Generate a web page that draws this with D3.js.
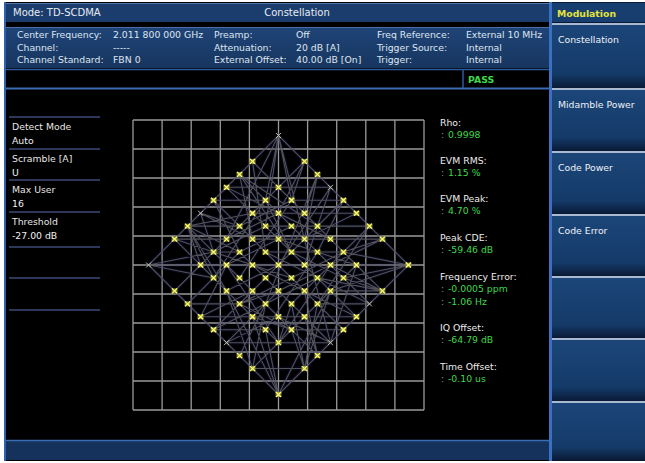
<!DOCTYPE html>
<html>
<head>
<meta charset="utf-8">
<script src="https://cdn.jsdelivr.net/npm/d3@7"></script>
<style>
  body { margin: 0; background: #fff; }
  svg { display: block; font-family: "DejaVu Sans", Verdana, sans-serif; }
</style>
</head>
<body>
<div id="screen"></div>
<script>
// symbol levels [I, Q] (lattice units)
let outerRing = [[-10,0],[-8,-2],[-7,-3],[-6,-4],[-5,-5],[-4,-6],[-3,-7],[-2,-8],[0,-10],[2,-8],[3,-7],[4,-6],[5,-5],[6,-4],[7,-3],[8,-2],
  [10,0],[8,2],[7,3],[6,4],[5,5],[4,6],[3,7],[2,8],[0,10],[-2,8],[-3,7],[-4,6],[-5,5],[-6,4],[-7,3],[-8,2]];
let ring6 = [[-6,0],[-5,-1],[-4,-2],[-3,-3],[-2,-4],[-1,-5],[0,-6],[1,-5],[2,-4],[3,-3],[4,-2],[5,-1],
  [6,0],[5,1],[4,2],[3,3],[2,4],[1,5],[0,6],[-1,5],[-2,4],[-3,3],[-4,2],[-5,1]];
let ring4 = [[-4,0],[-3,-1],[-2,-2],[-1,-3],[0,-4],[1,-3],[2,-2],[3,-1],[4,0],[3,1],[2,2],[1,3],[0,4],[-1,3],[-2,2],[-3,1]];
let ring2 = [[-2,0],[-1,-1],[0,-2],[1,-1],[2,0],[1,1],[0,2],[-1,1],[0,0]];
// rarely hit symbols (drawn faint)
let faintSymbols = [[-10,0],[-6,-4],[4,-6],[-4,6],[4,6],[7,3],[0,-10]];
// chip trajectory, in the order the chips were measured
let chipPath = [[-10,0],[-8,-2],[-4,-2],[0,-10],[2,-8],[-2,-4],[-6,0],[-8,2],[-4,6],[0,4],[6,4],[10,0],[8,-2],[4,-2],[0,-6],
  [-2,-8],[-4,-6],[0,-2],[6,0],[8,2],[4,2],[0,10],[-2,8],[2,4],[4,6],[5,5],[1,1],[-3,-3],[-7,-3],[-5,1],[-7,3],[-3,3],
  [1,5],[3,7],[2,2],[-2,-2],[-6,-4],[-5,-1],[-1,-5],[-3,-7],[1,-3],[5,1],[7,3],[3,3],[-1,-1],[-5,-5],[-3,-1],[1,3],[3,1],
  [7,-3],[3,-3],[-1,1],[-5,5],[-1,5],[3,-1],[5,-5],[1,-5],[-3,1],[-4,0],[-10,0],[-6,4],[-2,2],[2,-2],[6,-4],[4,-6],[0,0],
  [-4,2],[-7,-3],[-2,-4],[2,-4],[3,-7],[4,-6],[2,0],[-2,0],[-6,0],[-2,4],[0,6],[4,0],[8,-2],[10,0],[5,-1],[1,-1],[-3,3],
  [-5,5],[-4,6],[0,2],[2,4],[6,4],[7,3],[3,1],[-1,3],[-3,7],[-2,8],[0,10],[2,8],[1,3],[-3,-1],[-7,-3],[-8,-2],[-4,-2],
  [0,-4],[4,-2],[8,-2],[5,-5],[1,-5],[0,-10],[-1,-3],[-5,-1],[-8,2],[-6,4],[-2,4],[1,5],[6,0],[3,-3],[-3,-7],[-2,-8],
  [0,-6],[2,-4],[6,-4],[7,-3],[3,3],[-2,8],[-4,2],[-8,-2],[-6,-4],[-2,-2],[2,2],[6,4],[8,2],[5,1],[1,-3],[-3,-7],[0,-10],
  [2,-2],[4,6],[0,6],[-4,0],[-7,-3],[-3,1],[1,5],[2,8],[4,2],[10,0],[6,-4],[2,-4],[-2,-8],[-1,-1],[3,-1],[7,3],[5,5],[1,1],
  [-5,-1],[-10,0],[-8,2],[-6,0],[-3,-3],[0,-6],[4,-6],[5,-5],[3,-3],[-1,1],[-5,5],[-3,7],[0,10],[-2,4],[-6,4],[-7,3],[-3,3],
  [0,2],[4,0],[8,-2],[7,-3],[3,-7],[2,-8],[0,-4],[-4,-6],[-5,-5],[-1,-5],[1,-1],[5,-1],[6,0],[2,4],[3,7],[4,6],[0,4],[-4,6],
  [-5,5],[-1,3],[3,1],[8,2],[6,4],[2,0],[-2,-4],[-4,-2],[-8,-2],[-10,0],[-5,1],[-1,5],[0,10],[2,8],[3,3],[7,3],[10,0],[5,1],
  [1,-3],[-3,-1],[-7,3],[-8,2],[-4,-2],[0,-10],[-2,-8],[-3,-7],[-2,-2],[2,-2],[3,-7],[4,-6],[6,-4],[8,-2],[4,-2],[0,-2],
  [-4,0],[-6,4],[-5,5],[-2,2],[1,5],[5,5],[6,4],[2,2],[-2,0],[-6,0],[-7,-3],[-6,-4],[-3,-3],[1,-5],[2,-8],[0,-6],[-4,-6],
  [-1,-3],[3,-3],[5,-5],[7,-3],[3,1],[-1,-1],[-5,-5],[-4,-6],[0,-4],[4,0],[8,2],[7,3],[3,7],[2,8],[-2,8],[-3,7],[-4,6],
  [0,6],[1,3],[-3,-1],[-5,-1],[-8,-2],[-7,-3],[-3,-7],[1,-1],[5,1],[6,0],[10,0],[8,-2],[5,-1],[1,1],[-3,3],[-7,3],[-10,0],
  [-6,0],[-2,4],[2,4],[4,2],[0,-2],[-2,-4],[2,-4],[6,0],[4,6],[0,10],[-4,2],[-8,-2],[-5,1],[-1,-5],[0,-10],[3,-7],[-1,3],[-2,8]];

let headerFields = [
  {x: 17, y: 38, t: "Center Frequency:"}, {x: 113, y: 38, t: "2.011 800 000 GHz"},
  {x: 214, y: 38, t: "Preamp:"}, {x: 296, y: 38, t: "Off"},
  {x: 377, y: 38, t: "Freq Reference:"}, {x: 466, y: 38, t: "External 10 MHz"},
  {x: 17, y: 51, t: "Channel:"}, {x: 113, y: 51, t: "-----"},
  {x: 214, y: 51, t: "Attenuation:"}, {x: 296, y: 51, t: "20 dB  [A]"},
  {x: 377, y: 51, t: "Trigger Source:"}, {x: 466, y: 51, t: "Internal"},
  {x: 17, y: 63, t: "Channel Standard:"}, {x: 113, y: 63, t: "FBN 0"},
  {x: 214, y: 63, t: "External Offset:"}, {x: 296, y: 63, t: "40.00 dB  [On]"},
  {x: 377, y: 63, t: "Trigger:"}, {x: 466, y: 63, t: "Internal"}
];
let sideParams = [["Detect Mode", "Auto"], ["Scramble [A]", "U"], ["Max User", "16"], ["Threshold", "-27.00 dB"]];
let results = [
  {label: "Rho:", values: ["0.9998"]},
  {label: "EVM RMS:", values: ["1.15 %"]},
  {label: "EVM Peak:", values: ["4.70 %"]},
  {label: "Peak CDE:", values: ["-59.46 dB"]},
  {label: "Frequency Error:", values: ["-0.0005 ppm", "-1.06 Hz"]},
  {label: "IQ Offset:", values: ["-64.79 dB"]},
  {label: "Time Offset:", values: ["-0.10 us"]}
];
let softkeys = ["Constellation", "Midamble Power", "Code Power", "Code Error", "", "", ""];

let W = 645, H = 463;
let fs = 9.3;
let svg = d3.select('#screen').append('svg').attr('width', W).attr('height', H);
let defs = svg.append('defs');
let kg = defs.append('linearGradient').attr('id', 'keyGrad').attr('x1', 0).attr('x2', 0).attr('y1', 0).attr('y2', 1);
kg.append('stop').attr('offset', '0%').attr('stop-color', '#1c4679');
kg.append('stop').attr('offset', '78%').attr('stop-color', '#143a68');
kg.append('stop').attr('offset', '100%').attr('stop-color', '#0a1a36');
let pg = defs.append('linearGradient').attr('id', 'panelGrad').attr('x1', 0).attr('x2', 0).attr('y1', 0).attr('y2', 1);
pg.append('stop').attr('offset', '0%').attr('stop-color', '#1f4478');
pg.append('stop').attr('offset', '100%').attr('stop-color', '#17365f');

// screen body
svg.append('rect').attr('x', 4).attr('y', 2).attr('width', W - 4).attr('height', 459).attr('fill', '#000');

// title bar
svg.append('rect').attr('x', 5).attr('y', 3).attr('width', 544).attr('height', 19).attr('fill', '#1b3d6e');
svg.append('line').attr('x1', 5).attr('x2', 549).attr('y1', 3.5).attr('y2', 3.5).attr('stroke', '#5478ad');
svg.append('text').attr('x', 13).attr('y', 16).attr('fill', '#e8ecf2').attr('font-size', 10).text('Mode: TD-SCDMA');
svg.append('text').attr('x', 297).attr('y', 16).attr('text-anchor', 'middle').attr('fill', '#e8ecf2').attr('font-size', 10).text('Constellation');

// settings panel
svg.append('rect').attr('x', 5).attr('y', 27).attr('width', 544).attr('height', 41).attr('fill', 'url(#panelGrad)');
svg.append('line').attr('x1', 5).attr('x2', 549).attr('y1', 27.5).attr('y2', 27.5).attr('stroke', '#4a6ea6');
svg.selectAll('text.hdr').data(headerFields).enter().append('text')
  .attr('class', 'hdr').attr('x', d => d.x).attr('y', d => d.y)
  .attr('fill', '#dfe5ee').attr('font-size', fs).text(d => d.t);

// status row
svg.append('line').attr('x1', 5).attr('x2', 549).attr('y1', 69.5).attr('y2', 69.5).attr('stroke', '#2c5aa0').attr('stroke-width', 1.5);
svg.append('line').attr('x1', 5).attr('x2', 549).attr('y1', 88.5).attr('y2', 88.5).attr('stroke', '#3b6cb4').attr('stroke-width', 2);
svg.append('line').attr('x1', 463).attr('x2', 463).attr('y1', 69).attr('y2', 88).attr('stroke', '#2c5aa0').attr('stroke-width', 1.5);
svg.append('text').attr('x', 468).attr('y', 83).attr('fill', '#3fd84c').attr('font-size', fs).attr('font-weight', 'bold').text('PASS');

// left edge
svg.append('rect').attr('x', 4).attr('y', 2).attr('width', 2).attr('height', 459).attr('fill', '#2e62b0');

// bottom bar
svg.append('rect').attr('x', 6).attr('y', 441).attr('width', 543).attr('height', 19).attr('fill', '#15325c');
svg.append('line').attr('x1', 6).attr('x2', 549).attr('y1', 440.5).attr('y2', 440.5).attr('stroke', '#3b6cb4').attr('stroke-width', 1.5);

// side parameters
let sepY = [117, 149, 180, 212, 247, 278, 310];
svg.selectAll('line.sep').data(sepY).enter().append('line')
  .attr('x1', 9).attr('x2', 100).attr('y1', d => d).attr('y2', d => d)
  .attr('stroke', '#3c4a78').attr('stroke-width', 1.5);
sideParams.forEach(function(p, i) {
  let y0 = sepY[i];
  svg.append('text').attr('x', 12).attr('y', y0 + 13).attr('fill', '#e6e6e6').attr('font-size', fs).text(p[0]);
  svg.append('text').attr('x', 12).attr('y', y0 + 27).attr('fill', '#f2f2f2').attr('font-size', fs).text(p[1]);
});

// constellation
let x = d3.scaleLinear().domain([-11.2, 11.2]).range([133, 424]);
let y = d3.scaleLinear().domain([-11.2, 11.2]).range([120, 410]);
let gridTicks = d3.range(0, 11).map(i => -11.2 + i * 2.24);
let plot = svg.append('g');
plot.selectAll('line.gx').data(gridTicks).enter().append('line')
  .attr('x1', d => x(d)).attr('x2', d => x(d)).attr('y1', y(-11.2)).attr('y2', y(11.2))
  .attr('stroke', '#9a9a9a').attr('stroke-width', 1.3);
plot.selectAll('line.gy').data(gridTicks).enter().append('line')
  .attr('y1', d => y(d)).attr('y2', d => y(d)).attr('x1', x(-11.2)).attr('x2', x(11.2))
  .attr('stroke', '#9a9a9a').attr('stroke-width', 1.3);

let line = d3.line().x(d => x(d[0])).y(d => y(d[1]));
plot.append('path').datum(chipPath).attr('d', line).attr('fill', 'none')
  .attr('stroke', '#1d1d66').attr('stroke-width', 3.5).attr('stroke-opacity', 0.25);
plot.append('path').datum(chipPath).attr('d', line).attr('fill', 'none')
  .attr('stroke', '#5e5e62').attr('stroke-width', 1.1).attr('stroke-opacity', 0.85);

let allSymbols = outerRing.concat(ring6, ring4, ring2);
let isFaint = d => faintSymbols.some(f => f[0] === d[0] && f[1] === d[1]);
let marks = plot.selectAll('g.sym').data(allSymbols).enter().append('g')
  .attr('transform', d => 'translate(' + x(d[0]) + ',' + y(d[1]) + ')');
marks.filter(d => !isFaint(d)).append('rect')
  .attr('x', -3).attr('y', -2.5).attr('width', 6).attr('height', 5)
  .attr('fill', '#a8a832').attr('opacity', 0.75);
marks.append('path').attr('d', 'M-2.5,-2.5L2.5,2.5M-2.5,2.5L2.5,-2.5')
  .attr('stroke', d => isFaint(d) ? '#c4c4a6' : '#ffff7a')
  .attr('stroke-width', d => isFaint(d) ? 1 : 1.2);

// results column
let ry = [126, 164, 202, 241, 280, 331, 370];
results.forEach(function(r, i) {
  svg.append('text').attr('x', 440).attr('y', ry[i]).attr('fill', '#ececec').attr('font-size', fs).text(r.label);
  r.values.forEach(function(v, j) {
    let vy = ry[i] + 12 + j * 13;
    svg.append('text').attr('x', 441).attr('y', vy).attr('fill', '#8c8c8c').attr('font-size', fs).text(':');
    svg.append('text').attr('x', 448).attr('y', vy).attr('fill', '#3fd84c').attr('font-size', fs).text(v);
  });
});

// softkey panel
svg.append('rect').attr('x', 549).attr('y', 2).attr('width', 96).attr('height', 459).attr('fill', '#0a1a36');
svg.append('rect').attr('x', 549).attr('y', 2).attr('width', 3).attr('height', 459).attr('fill', '#3a70c2');
svg.append('rect').attr('x', 552).attr('y', 3).attr('width', 93).attr('height', 19).attr('fill', '#183e70');
svg.append('text').attr('x', 557).attr('y', 17).attr('fill', '#e4e43c').attr('font-size', fs).attr('font-weight', 'bold').text('Modulation');
let keyTop = [25, 90, 153, 216, 278, 340, 403];
softkeys.forEach(function(k, i) {
  let y0 = keyTop[i];
  let y1 = i < keyTop.length - 1 ? keyTop[i + 1] - 2 : 460;
  svg.append('rect').attr('x', 552).attr('y', y0).attr('width', 93).attr('height', y1 - y0).attr('fill', 'url(#keyGrad)');
  svg.append('rect').attr('x', 552).attr('y', y0 - 2).attr('width', 93).attr('height', 2).attr('fill', '#a9bad0');
  svg.append('text').attr('x', 558).attr('y', y0 + 18).attr('fill', '#eef1f6').attr('font-size', fs).text(k);
});
</script>
</body>
</html>
